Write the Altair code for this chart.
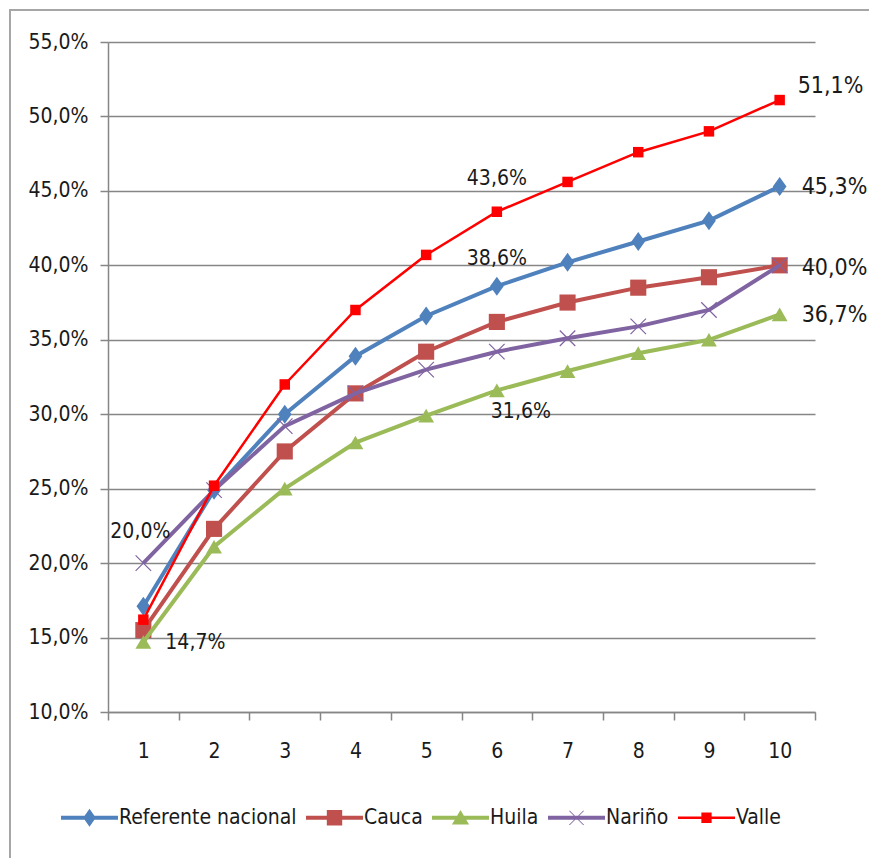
import altair as alt
import pandas as pd

categories = [1, 2, 3, 4, 5, 6, 7, 8, 9, 10]
series_names = ["Referente nacional", "Cauca", "Huila", "Nariño", "Valle"]
referente = [17.1, 24.9, 30.0, 33.9, 36.6, 38.6, 40.2, 41.6, 43.0, 45.3]
cauca = [15.5, 22.3, 27.5, 31.4, 34.2, 36.2, 37.5, 38.5, 39.2, 40.0]
huila = [14.7, 21.1, 25.0, 28.1, 29.9, 31.6, 32.9, 34.1, 35.0, 36.7]
narino = [20.0, 24.9, 29.2, 31.4, 33.0, 34.2, 35.1, 35.9, 37.0, 40.0]
valle = [16.2, 25.2, 32.0, 37.0, 40.7, 43.6, 45.6, 47.6, 49.0, 51.1]
series_values = [referente, cauca, huila, narino, valle]
y_ticks = [0.10, 0.15, 0.20, 0.25, 0.30, 0.35, 0.40, 0.45, 0.50, 0.55]
x_ticks = [0.5, 1.5, 2.5, 3.5, 4.5, 5.5, 6.5, 7.5, 8.5, 9.5, 10.5]

colors = ["#4F81BD", "#C0504D", "#9BBB59", "#8064A2", "#FF0000"]
line_widths = [4, 4, 4, 4, 2.5]
point_shapes = ["M0,-1L0.72,0L0,1L-0.72,0Z", "square", "triangle-up",
                "M-1,-1L1,1M1,-1L-1,1", "square"]
point_sizes = [360, 260, 250, 240, 110]
point_filled = [True, True, True, False, True]

# annotations: series, category, dx, dy, font size, align
ann_series = ["Nariño", "Huila", "Valle", "Referente nacional", "Huila",
              "Valle", "Referente nacional", "Cauca", "Huila"]
ann_x = [1, 1, 6, 6, 6, 10, 10, 10, 10]
ann_dx = [-3, 22, 0, 0, 24, 18, 22, 22, 22]
ann_dy = [-31, 1, -33, -27, 22, -14, 1, 3, 1]
ann_size = [21, 21, 21, 21, 21, 23, 23, 23, 23]
ann_align = ["center", "left", "center", "center", "center", "left", "left", "left", "left"]

FONT = "Liberation Sans Narrow, DejaVu Sans Condensed, Liberation Sans, sans-serif"
GRID = "#868686"


def legend_path(t, marker):
    return f"M-1,{-t}H1V{t}H-1Z" + marker


legend_paths = [
    legend_path(0.07, "M0,-0.32L0.22,0L0,0.32L-0.22,0Z"),
    legend_path(0.07, "M-0.27,-0.27H0.27V0.27H-0.27Z"),
    legend_path(0.07, "M0,-0.27L0.3,0.24H-0.3Z"),
    legend_path(0.07, "M-0.27,-0.25L-0.23,-0.25L0.27,0.25L0.23,0.25Z"
                      "M0.23,-0.25L0.27,-0.25L-0.23,0.25L-0.27,0.25Z"),
    legend_path(0.045, "M-0.18,-0.18H0.18V0.18H-0.18Z"),
]

rows = []
for name, vals in zip(series_names, series_values):
    for c, v in zip(categories, vals):
        rows.append({"x": c, "series": name, "value": v / 100.0})
df = pd.DataFrame(rows)

pct_expr = "replace(format(datum.value, '.1%'), '.', ',')"

x_enc = alt.X(
    "x:Q",
    scale=alt.Scale(domain=[0.5, 10.5], nice=False, zero=False),
    axis=alt.Axis(
        values=x_ticks,
        labelExpr="datum.value < 10 ? format(datum.value + 0.5, 'd') : ''",
        labelOffset=35.35, labelFlush=False, labelOverlap=False,
        tickSize=8, tickColor=GRID, domainColor=GRID, domainWidth=1.5, tickWidth=1.5,
        grid=False, title=None, labelFont=FONT, labelFontSize=21,
        labelColor="#1a1a1a", labelPadding=20,
    ),
)
y_enc = alt.Y(
    "value:Q",
    scale=alt.Scale(domain=[0.10, 0.55], nice=False, zero=False),
    axis=alt.Axis(
        values=y_ticks, labelExpr=pct_expr, labelFlush=False,
        tickSize=8, tickColor=GRID, domainColor=GRID, domainWidth=1.5, tickWidth=1.5,
        grid=True, gridColor=GRID, gridWidth=1.5, title=None,
        labelFont=FONT, labelFontSize=21, labelColor="#1a1a1a", labelPadding=12,
    ),
)
color_scale = alt.Scale(domain=series_names, range=colors)

base = alt.Chart(df)

border = alt.Chart(pd.DataFrame({"a": [0]})).mark_rect(
    fill="transparent", stroke="#A6A6A6", strokeWidth=2
).encode(x=alt.value(-98), x2=alt.value(800), y=alt.value(-32), y2=alt.value(900))

layers = [border]
for i, name in enumerate(series_names):
    sub = base.transform_filter(alt.datum.series == name)
    layers.append(
        sub.mark_line(strokeWidth=line_widths[i]).encode(
            x=x_enc, y=y_enc,
            color=alt.Color("series:N", scale=color_scale, legend=None),
        )
    )
    layers.append(
        sub.mark_point(
            shape=point_shapes[i], filled=point_filled[i], size=point_sizes[i],
            opacity=1, strokeWidth=1.2,
        ).encode(
            x=x_enc, y=y_enc,
            color=alt.Color("series:N", scale=color_scale, legend=None),
        )
    )

leg = dict(
    title=None, orient="none", legendX=-47, legendY=747,
    direction="horizontal", columns=5, symbolSize=3249,
    labelFont=FONT, labelFontSize=21, labelColor="#1a1a1a", labelLimit=0,
    labelOffset=1, columnPadding=9, padding=0, symbolStrokeWidth=0,
    symbolOpacity=1,
)
legend_layer = base.mark_point(filled=True, opacity=0.001).encode(
    x=x_enc, y=y_enc,
    color=alt.Color("series:N", scale=color_scale, sort=series_names,
                    legend=alt.Legend(**leg)),
    shape=alt.Shape("series:N", scale=alt.Scale(domain=series_names, range=legend_paths),
                    sort=series_names, legend=alt.Legend(**leg)),
)
layers.append(legend_layer)

for s, cx, dx, dy, fs, al in zip(ann_series, ann_x, ann_dx, ann_dy, ann_size, ann_align):
    layers.append(
        base.transform_filter((alt.datum.series == s) & (alt.datum.x == cx))
        .transform_calculate(label=pct_expr)
        .mark_text(dx=dx, dy=dy, fontSize=fs, font=FONT, color="#1a1a1a",
                   align=al, baseline="middle")
        .encode(x=x_enc, y=y_enc, text="label:N")
    )

chart = (
    alt.layer(*layers)
    .resolve_legend(color="independent", shape="independent")
    .properties(
        width=707, height=670,
        autosize=alt.AutoSizeParams(type="none"),
        padding={"left": 100, "top": 34, "right": 54, "bottom": 146},
        background="white",
    )
    .configure_view(stroke=None)
)

chart.save("out.html", embed_options={"renderer": "svg", "actions": False})
